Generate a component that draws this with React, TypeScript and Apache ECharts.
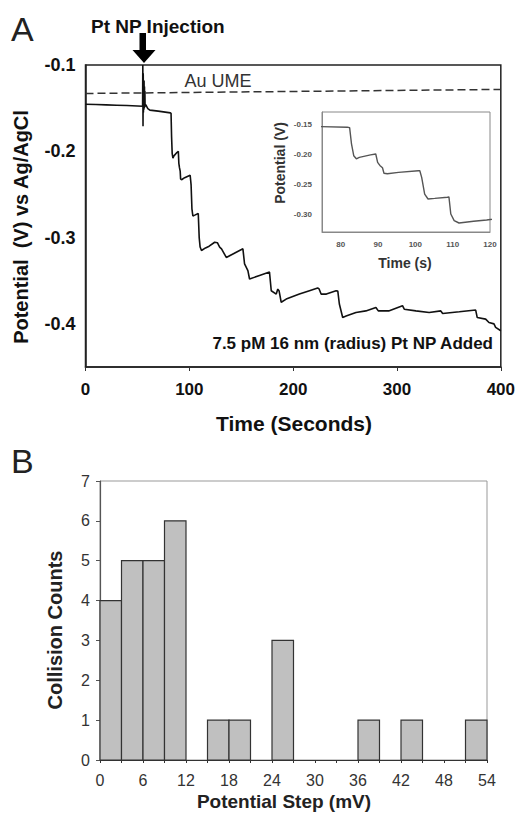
import React, { useEffect, useRef } from "react";
import * as echarts from "echarts";

// ---- Panel A: potential trace ----
const traceTime = [
  0, 10, 20, 30, 40, 50, 55, 55.2, 55.4, 55.6, 55.8, 56.0, 56.2, 56.4, 56.6, 56.8, 57.0, 57.2, 57.4, 58, 60, 62, 70,
  81.8, 82.4, 82.9, 83.5, 84.2, 85, 88, 89.4, 89.9, 90.5, 91.2, 91.6, 92.5, 95.5, 100.8, 101.2,
  101.7, 102.5, 103.4, 105.2, 108.6, 109, 109.5, 110.4, 111.7, 115.6, 119.1, 124.4, 127, 129.2,
  131, 135.6, 142, 151.6, 153.2, 156.4, 158, 167.6, 177.2, 178.9, 183.7, 185.2, 186.5, 188.5,
  193.3, 206, 215.7, 223.6, 225, 226.9, 232, 241.3, 243, 244.5, 247.7, 251, 260.5, 270, 279.7,
  282, 292, 305.3, 307, 318.2, 331, 342.2, 344, 360, 375.8, 377.3, 385.4, 388.6, 393.4, 395, 400,
];
const tracePotential = [
  -0.1455, -0.1458, -0.1462, -0.1466, -0.147, -0.1475, -0.1478, -0.1, -0.171, -0.11, -0.155,
  -0.12, -0.152, -0.118, -0.15, -0.125, -0.149, -0.13, -0.148, -0.146, -0.1505, -0.1523, -0.1535,
  -0.1555, -0.156, -0.183, -0.2028, -0.208, -0.2056, -0.2015, -0.2, -0.214, -0.219, -0.223,
  -0.232, -0.233, -0.2306, -0.2278, -0.228,
  -0.239, -0.2667, -0.275, -0.274, -0.272, -0.2715, -0.3, -0.311, -0.315, -0.312, -0.31,
  -0.3054, -0.306, -0.311,
  -0.313, -0.323, -0.319, -0.313, -0.3306, -0.3384, -0.348, -0.344, -0.34, -0.3616, -0.3655,
  -0.3597, -0.362, -0.375,
  -0.3713, -0.3655, -0.3616, -0.3585, -0.3595, -0.3655, -0.3655, -0.3616, -0.362, -0.377,
  -0.3927, -0.391, -0.3868, -0.385, -0.381,
  -0.385, -0.385, -0.379, -0.383, -0.385, -0.3868, -0.385, -0.388, -0.386, -0.384, -0.3927,
  -0.3945, -0.3985, -0.4, -0.404, -0.408,
];
const umeTime = [0, 400];
const umePotential = [-0.133, -0.1283];

// ---- Panel B: histogram ----
const binStart = [0, 3, 6, 9, 12, 15, 18, 21, 24, 27, 30, 33, 36, 39, 42, 45, 48, 51];
const binWidth = 3;
const collisionCounts = [4, 5, 5, 6, 0, 1, 1, 0, 3, 0, 0, 0, 1, 0, 1, 0, 0, 1];

const FONT = "Liberation Sans, Arial, sans-serif";

export default function App() {
  const ref = useRef<HTMLDivElement>(null);
  useEffect(() => {
    if (!ref.current) return;
    const chart = echarts.init(ref.current, null, { renderer: "svg" });
    const trace = traceTime.map((t, i) => [t, tracePotential[i]]);
    const ume = umeTime.map((t, i) => [t, umePotential[i]]);
    const hist = binStart
      .map((s, i) => [s, s + binWidth, collisionCounts[i]])
      .filter((d) => d[2] > 0);

    const option: any = {
      animation: false,
      backgroundColor: "#fff",
      textStyle: { fontFamily: FONT },
      grid: [
        { left: 85.5, top: 65, width: 416.5, height: 302, show: true, borderColor: "#222", borderWidth: 1.5, backgroundColor: "transparent" },
        { left: 322, top: 112, width: 168, height: 120, show: true, borderColor: "#888", borderWidth: 1, backgroundColor: "#fff" },
        { left: 100, top: 481, width: 387, height: 279, show: true, borderColor: "#999", borderWidth: 1, backgroundColor: "transparent" },
      ],
      xAxis: [
        {
          gridIndex: 0, type: "value", min: 0, max: 400, interval: 100,
          axisLine: { lineStyle: { color: "#222", width: 1.5 } },
          axisTick: { show: true, length: 4, lineStyle: { color: "#333" } },
          splitLine: { show: false },
          axisLabel: { margin: 14, fontSize: 17, fontWeight: "bold", color: "#111", fontFamily: FONT },
        },
        {
          gridIndex: 1, type: "value", min: 75, max: 120, interval: 5,
          axisLine: { lineStyle: { color: "#888" } },
          axisTick: { show: false },
          splitLine: { show: false },
          axisLabel: {
            margin: 8, fontSize: 8, fontWeight: "bold", color: "#555", fontFamily: FONT,
            formatter: (v: number) => (Math.round(v) % 10 === 0 ? String(Math.round(v)) : ""),
          },
        },
        {
          gridIndex: 2, type: "value", min: 0, max: 54, interval: 3,
          axisLine: { lineStyle: { color: "#333", width: 1.2 } },
          axisTick: { show: true, length: 3, lineStyle: { color: "#333" } },
          splitLine: { show: false },
          axisLabel: {
            margin: 12, fontSize: 16, color: "#333", fontFamily: FONT,
            formatter: (v: number) => (Math.round(v) % 6 === 0 ? String(Math.round(v)) : ""),
          },
        },
      ],
      yAxis: [
        {
          gridIndex: 0, type: "value", min: -0.45, max: -0.1, interval: 0.05,
          axisLine: { show: true, lineStyle: { color: "#222", width: 1.5 } },
          axisTick: { show: false },
          splitLine: { show: false },
          axisLabel: {
            margin: 10, fontSize: 18, fontWeight: "bold", color: "#111", fontFamily: FONT,
            formatter: (v: number) => {
              const r = Math.round(v * 100);
              return r % 10 === 0 ? (r / 100).toFixed(1) : "";
            },
          },
        },
        {
          gridIndex: 1, type: "value", min: -0.33, max: -0.13, interval: 0.01,
          axisLine: { show: true, lineStyle: { color: "#888" } },
          axisTick: { show: false },
          splitLine: { show: false },
          axisLabel: {
            margin: 10, fontSize: 8, fontWeight: "bold", color: "#555", fontFamily: FONT,
            formatter: (v: number) => {
              const r = Math.round(v * 100);
              return r % 5 === 0 ? (r / 100).toFixed(2) : "";
            },
          },
        },
        {
          gridIndex: 2, type: "value", min: 0, max: 7, interval: 1,
          axisLine: { show: true, lineStyle: { color: "#555", width: 1.2 } },
          axisTick: { show: true, length: 4, lineStyle: { color: "#555" } },
          splitLine: { show: false },
          axisLabel: { margin: 10, fontSize: 16, color: "#333", fontFamily: FONT },
        },
      ],
      series: [
        {
          name: "Au UME", type: "line", xAxisIndex: 0, yAxisIndex: 0, data: ume,
          showSymbol: false, symbol: "none",
          lineStyle: { color: "#333", width: 1.5, type: [8, 4] },
        },
        {
          name: "Pt NP", type: "line", xAxisIndex: 0, yAxisIndex: 0, data: trace,
          showSymbol: false, symbol: "none",
          lineStyle: { color: "#111", width: 1.6 },
        },
        {
          name: "Inset", type: "line", xAxisIndex: 1, yAxisIndex: 1, data: trace,
          showSymbol: false, symbol: "none", clip: true,
          lineStyle: { color: "#555", width: 1.4 },
        },
        {
          name: "Histogram", type: "custom", xAxisIndex: 2, yAxisIndex: 2, data: hist,
          encode: { x: [0, 1], y: 2 },
          renderItem: (params: any, api: any) => {
            const p0 = api.coord([api.value(0), api.value(2)]);
            const p1 = api.coord([api.value(1), 0]);
            return {
              type: "rect",
              shape: { x: p0[0], y: p0[1], width: p1[0] - p0[0], height: p1[1] - p0[1] },
              style: { fill: "#c0c0c0", stroke: "#333", lineWidth: 1.2 },
            };
          },
        },
      ],
      graphic: [
        { type: "text", left: 11, top: 12, style: { text: "A", font: `34px ${FONT}`, fill: "#222" } },
        { type: "text", left: 11, top: 444, style: { text: "B", font: `34px ${FONT}`, fill: "#222" } },
        { type: "text", x: 91, y: 26, style: { text: "Pt NP Injection", font: `bold 19px ${FONT}`, fill: "#111", textVerticalAlign: "middle" } },
        {
          type: "polygon",
          shape: { points: [[139.5, 33], [146, 33], [146, 50], [155.5, 50], [144, 63], [132.5, 50], [139.5, 50]] },
          style: { fill: "#000" },
        },
        { type: "text", x: 218, y: 81, style: { text: "Au UME", font: `18px ${FONT}`, fill: "#333", textAlign: "center", textVerticalAlign: "middle" } },
        { type: "text", x: 493, y: 343, style: { text: "7.5 pM 16 nm (radius) Pt NP Added", font: `bold 17px ${FONT}`, fill: "#111", textAlign: "right", textVerticalAlign: "middle" } },
        { type: "text", x: 294, y: 423, style: { text: "Time (Seconds)", font: `bold 21px ${FONT}`, fill: "#111", textAlign: "center", textVerticalAlign: "middle" } },
        { type: "text", x: 21, y: 227, rotation: Math.PI / 2, style: { text: "Potential  (V) vs Ag/AgCl", font: `bold 20px ${FONT}`, fill: "#111", textAlign: "center", textVerticalAlign: "middle" } },
        { type: "text", x: 280, y: 163, rotation: Math.PI / 2, style: { text: "Potential (V)", font: `bold 14px ${FONT}`, fill: "#333", textAlign: "center", textVerticalAlign: "middle" } },
        { type: "text", x: 405, y: 263, style: { text: "Time (s)", font: `bold 14px ${FONT}`, fill: "#333", textAlign: "center", textVerticalAlign: "middle" } },
        { type: "text", x: 55, y: 630, rotation: Math.PI / 2, style: { text: "Collision Counts", font: `bold 20px ${FONT}`, fill: "#222", textAlign: "center", textVerticalAlign: "middle" } },
        { type: "text", x: 284, y: 801, style: { text: "Potential Step (mV)", font: `bold 19px ${FONT}`, fill: "#222", textAlign: "center", textVerticalAlign: "middle" } },
      ],
    };
    chart.setOption(option);
    return () => chart.dispose();
  }, []);
  return (
    <div
      ref={ref}
      style={{ position: "fixed", left: 0, top: 0, width: 518, height: 813, background: "#fff" }}
    />
  );
}
